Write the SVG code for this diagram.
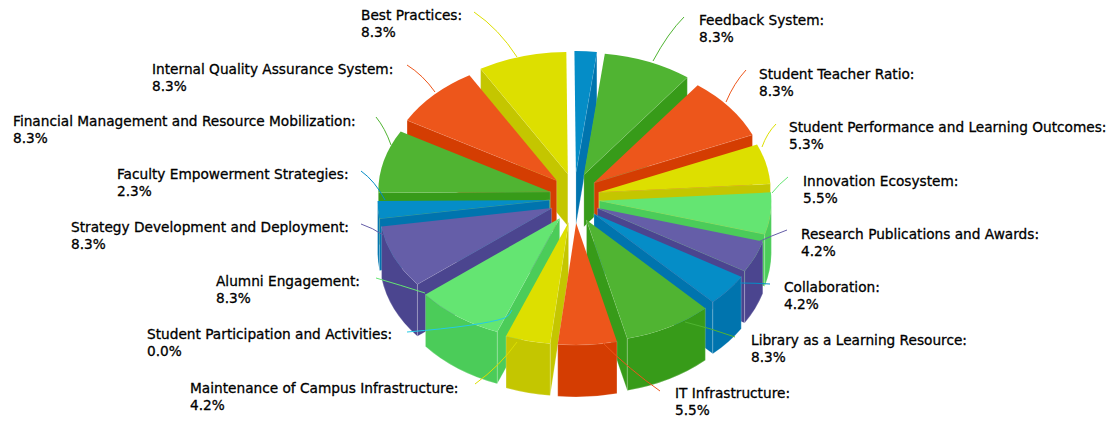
<svg xmlns="http://www.w3.org/2000/svg" width="1109" height="422" viewBox="0 0 1109 422">
<style>
.b{fill:#058DC7}.bs{fill:#0074AE}
.g{fill:#50B432}.gs{fill:#379B19}
.o{fill:#ED561B}.os{fill:#D43D02}
.y{fill:#DDDF00}.ys{fill:#C4C600}
.l{fill:#64E572}.ls{fill:#4BCC59}
.p{fill:#655EA8}.ps{fill:#4B458F}
#sides path{stroke:#ffffff;stroke-opacity:0.25;stroke-width:0.8}
text{font-family:"DejaVu Sans","Liberation Sans",sans-serif;font-size:13.7px;fill:#000;stroke:#000;stroke-width:0.3}
#connectors path{fill:none;stroke-width:1}
</style>
<rect width="1109" height="422" fill="#ffffff"/>
<g id="sides">
<path class="bs" d="M575.92,173.04 L596.88,51.95 L596.88,103.95 L575.92,225.04 Z"/>
<path class="ys" d="M567.83,173.91 L480.60,68.76 L480.60,120.76 L567.83,225.91 Z"/>
<path class="gs" d="M583.86,174.82 L687.33,77.36 L687.33,129.36 L583.86,226.82 Z"/>
<path class="os" d="M556.68,180.46 L407.05,120.29 L407.05,172.29 L556.68,232.46 Z"/>
<path class="os" d="M594.19,182.60 L752.46,134.83 L752.46,186.83 L594.19,234.60 Z"/>
<path class="ys" d="M598.81,192.17 L770.41,183.87 L770.41,235.87 L598.81,244.17 Z"/>
<path class="gs" d="M550.30,191.72 L378.31,192.64 L378.31,244.64 L550.30,243.72 Z"/>
<path class="bs" d="M379.57,218.52 A172,122 0 0 1 377.58,200.00 L377.58,252.00 A172,122 0 0 0 379.57,270.52 Z"/>
<path class="bs" d="M549.58,200.00 L379.57,218.52 L379.57,270.52 L549.58,252.00 Z"/>
<path class="ls" d="M599.36,200.63 L764.73,234.18 L764.73,286.18 L599.36,252.63 Z"/>
<path class="ls" d="M771.36,200.63 A172,122 0 0 1 764.73,234.18 L764.73,286.18 A172,122 0 0 0 771.36,252.63 Z"/>
<path class="ps" d="M597.42,207.99 L744.65,271.06 L744.65,323.06 L597.42,259.99 Z"/>
<path class="ps" d="M551.61,208.06 L417.39,284.36 L417.39,336.36 L551.61,260.06 Z"/>
<path class="ps" d="M417.39,284.36 A172,122 0 0 1 381.60,226.58 L381.60,278.58 A172,122 0 0 0 417.39,336.36 Z"/>
<path class="bs" d="M594.01,213.64 L712.84,301.84 L712.84,353.84 L594.01,265.64 Z"/>
<path class="ps" d="M762.79,241.54 A172,122 0 0 1 744.65,271.06 L744.65,323.06 A172,122 0 0 0 762.79,293.54 Z"/>
<path class="ls" d="M559.70,218.15 L497.20,331.81 L497.20,383.81 L559.70,270.15 Z"/>
<path class="gs" d="M586.51,219.93 L627.31,338.45 L627.31,390.45 L586.51,271.93 Z"/>
<path class="ys" d="M568.57,222.29 L550.17,343.59 L550.17,395.59 L568.57,274.29 Z"/>
<path class="bs" d="M741.24,276.71 A172,122 0 0 1 712.84,301.84 L712.84,353.84 A172,122 0 0 0 741.24,328.71 Z"/>
<path class="ls" d="M497.20,331.81 A172,122 0 0 1 425.48,294.45 L425.48,346.45 A172,122 0 0 0 497.20,383.81 Z"/>
<path class="gs" d="M705.34,308.13 A172,122 0 0 1 627.31,338.45 L627.31,390.45 A172,122 0 0 0 705.34,360.13 Z"/>
<path class="ys" d="M550.17,343.59 A172,122 0 0 1 506.07,335.95 L506.07,387.95 A172,122 0 0 0 550.17,395.59 Z"/>
<path class="os" d="M616.95,341.47 A172,122 0 0 1 557.75,344.25 L557.75,396.25 A172,122 0 0 0 616.95,393.47 Z"/>
</g>
<g id="slice-top-blue"><path class="b" d="M575.92,173.04 L574.42,51.04 A172,122 0 0 1 596.88,51.95 Z"/></g>
<g id="slice-feedback"><path class="g" d="M583.86,174.82 L604.82,53.73 A172,122 0 0 1 687.33,77.36 Z"/></g>
<g id="slice-student-teacher-ratio"><path class="o" d="M594.19,182.60 L697.66,85.14 A172,122 0 0 1 752.46,134.83 Z"/></g>
<g id="slice-student-performance"><path class="y" d="M598.81,192.17 L757.08,144.40 A172,122 0 0 1 770.41,183.87 Z"/></g>
<g id="slice-innovation"><path class="l" d="M599.36,200.63 L770.96,192.33 A172,122 0 0 1 764.73,234.18 Z"/></g>
<g id="slice-research"><path class="p" d="M597.42,207.99 L762.79,241.54 A172,122 0 0 1 744.65,271.06 Z"/></g>
<g id="slice-collaboration"><path class="b" d="M594.01,213.64 L741.24,276.71 A172,122 0 0 1 712.84,301.84 Z"/></g>
<g id="slice-library"><path class="g" d="M586.51,219.93 L705.34,308.13 A172,122 0 0 1 627.31,338.45 Z"/></g>
<g id="slice-it"><path class="o" d="M576.15,222.95 L616.95,341.47 A172,122 0 0 1 557.75,344.25 Z"/></g>
<g id="slice-maintenance"><path class="y" d="M568.57,222.29 L550.17,343.59 A172,122 0 0 1 506.07,335.95 Z"/></g>
<g id="slice-alumni"><path class="l" d="M559.70,218.15 L497.20,331.81 A172,122 0 0 1 425.48,294.45 Z"/></g>
<g id="slice-strategy"><path class="p" d="M551.61,208.06 L417.39,284.36 A172,122 0 0 1 381.60,226.58 Z"/></g>
<g id="slice-faculty"><path class="b" d="M549.58,200.00 L379.57,218.52 A172,122 0 0 1 377.59,200.92 Z"/></g>
<g id="slice-financial"><path class="g" d="M550.30,191.72 L378.31,192.64 A172,122 0 0 1 400.67,131.55 Z"/></g>
<g id="slice-iqas"><path class="o" d="M556.68,180.46 L407.05,120.29 A172,122 0 0 1 469.45,75.31 Z"/></g>
<g id="slice-best-practices"><path class="y" d="M567.83,173.91 L480.60,68.76 A172,122 0 0 1 566.33,51.91 Z"/></g>
<g id="connectors">
<path stroke="#50B432" d="M684,17 Q668,33 653,61"/>
<path stroke="#ED561B" d="M746,70 Q734,83 726,102"/>
<path stroke="#DDDF00" d="M776,124 Q767,133 762,147"/>
<path stroke="#64E572" d="M788,177 Q779,184 772,193"/>
<path stroke="#655EA8" d="M787,230 Q771,236 758,242"/>
<path stroke="#058DC7" d="M770,284 Q755,283 740,283"/>
<path stroke="#50B432" d="M735,337 Q710,328 685,322"/>
<path stroke="#ED561B" d="M660,391 Q630,370 603,343"/>
<path stroke="#DDDF00" d="M475,384 Q500,366 517,342"/>
<path stroke="#24CBE5" d="M407,332 Q480,326 505,318 Q510,315 512,310"/>
<path stroke="#64E572" d="M376,278 Q400,285 425,293"/>
<path stroke="#655EA8" d="M361,224 Q373,228 383,235"/>
<path stroke="#058DC7" d="M361,171 Q375,181 385,200"/>
<path stroke="#50B432" d="M376,117 Q385,128 391,145"/>
<path stroke="#ED561B" d="M407,65 Q423,75 435,92"/>
<path stroke="#DDDF00" d="M474,12 Q499,29 517,57"/>
</g>
<g id="label-feedback"><text x="699" y="25">Feedback System:</text><text x="699" y="42">8.3%</text></g>
<g id="label-student-teacher-ratio"><text x="759" y="79">Student Teacher Ratio:</text><text x="759" y="96">8.3%</text></g>
<g id="label-student-performance"><text x="789" y="132">Student Performance and Learning Outcomes:</text><text x="789" y="149">5.3%</text></g>
<g id="label-innovation"><text x="803" y="186">Innovation Ecosystem:</text><text x="803" y="203">5.5%</text></g>
<g id="label-research"><text x="801" y="239">Research Publications and Awards:</text><text x="801" y="256">4.2%</text></g>
<g id="label-collaboration"><text x="784" y="292">Collaboration:</text><text x="784" y="309">4.2%</text></g>
<g id="label-library"><text x="751" y="345">Library as a Learning Resource:</text><text x="751" y="362">8.3%</text></g>
<g id="label-it"><text x="675" y="398">IT Infrastructure:</text><text x="675" y="415">5.5%</text></g>
<g id="label-maintenance"><text x="190" y="393">Maintenance of Campus Infrastructure:</text><text x="190" y="410">4.2%</text></g>
<g id="label-student-participation"><text x="147" y="339">Student Participation and Activities:</text><text x="147" y="356">0.0%</text></g>
<g id="label-alumni"><text x="216" y="286">Alumni Engagement:</text><text x="216" y="303">8.3%</text></g>
<g id="label-strategy"><text x="71" y="232">Strategy Development and Deployment:</text><text x="71" y="249">8.3%</text></g>
<g id="label-faculty"><text x="117" y="179">Faculty Empowerment Strategies:</text><text x="117" y="196">2.3%</text></g>
<g id="label-financial"><text x="13" y="126">Financial Management and Resource Mobilization:</text><text x="13" y="143">8.3%</text></g>
<g id="label-iqas"><text x="152" y="74">Internal Quality Assurance System:</text><text x="152" y="91">8.3%</text></g>
<g id="label-best-practices"><text x="361" y="20">Best Practices:</text><text x="361" y="37">8.3%</text></g>
</svg>
